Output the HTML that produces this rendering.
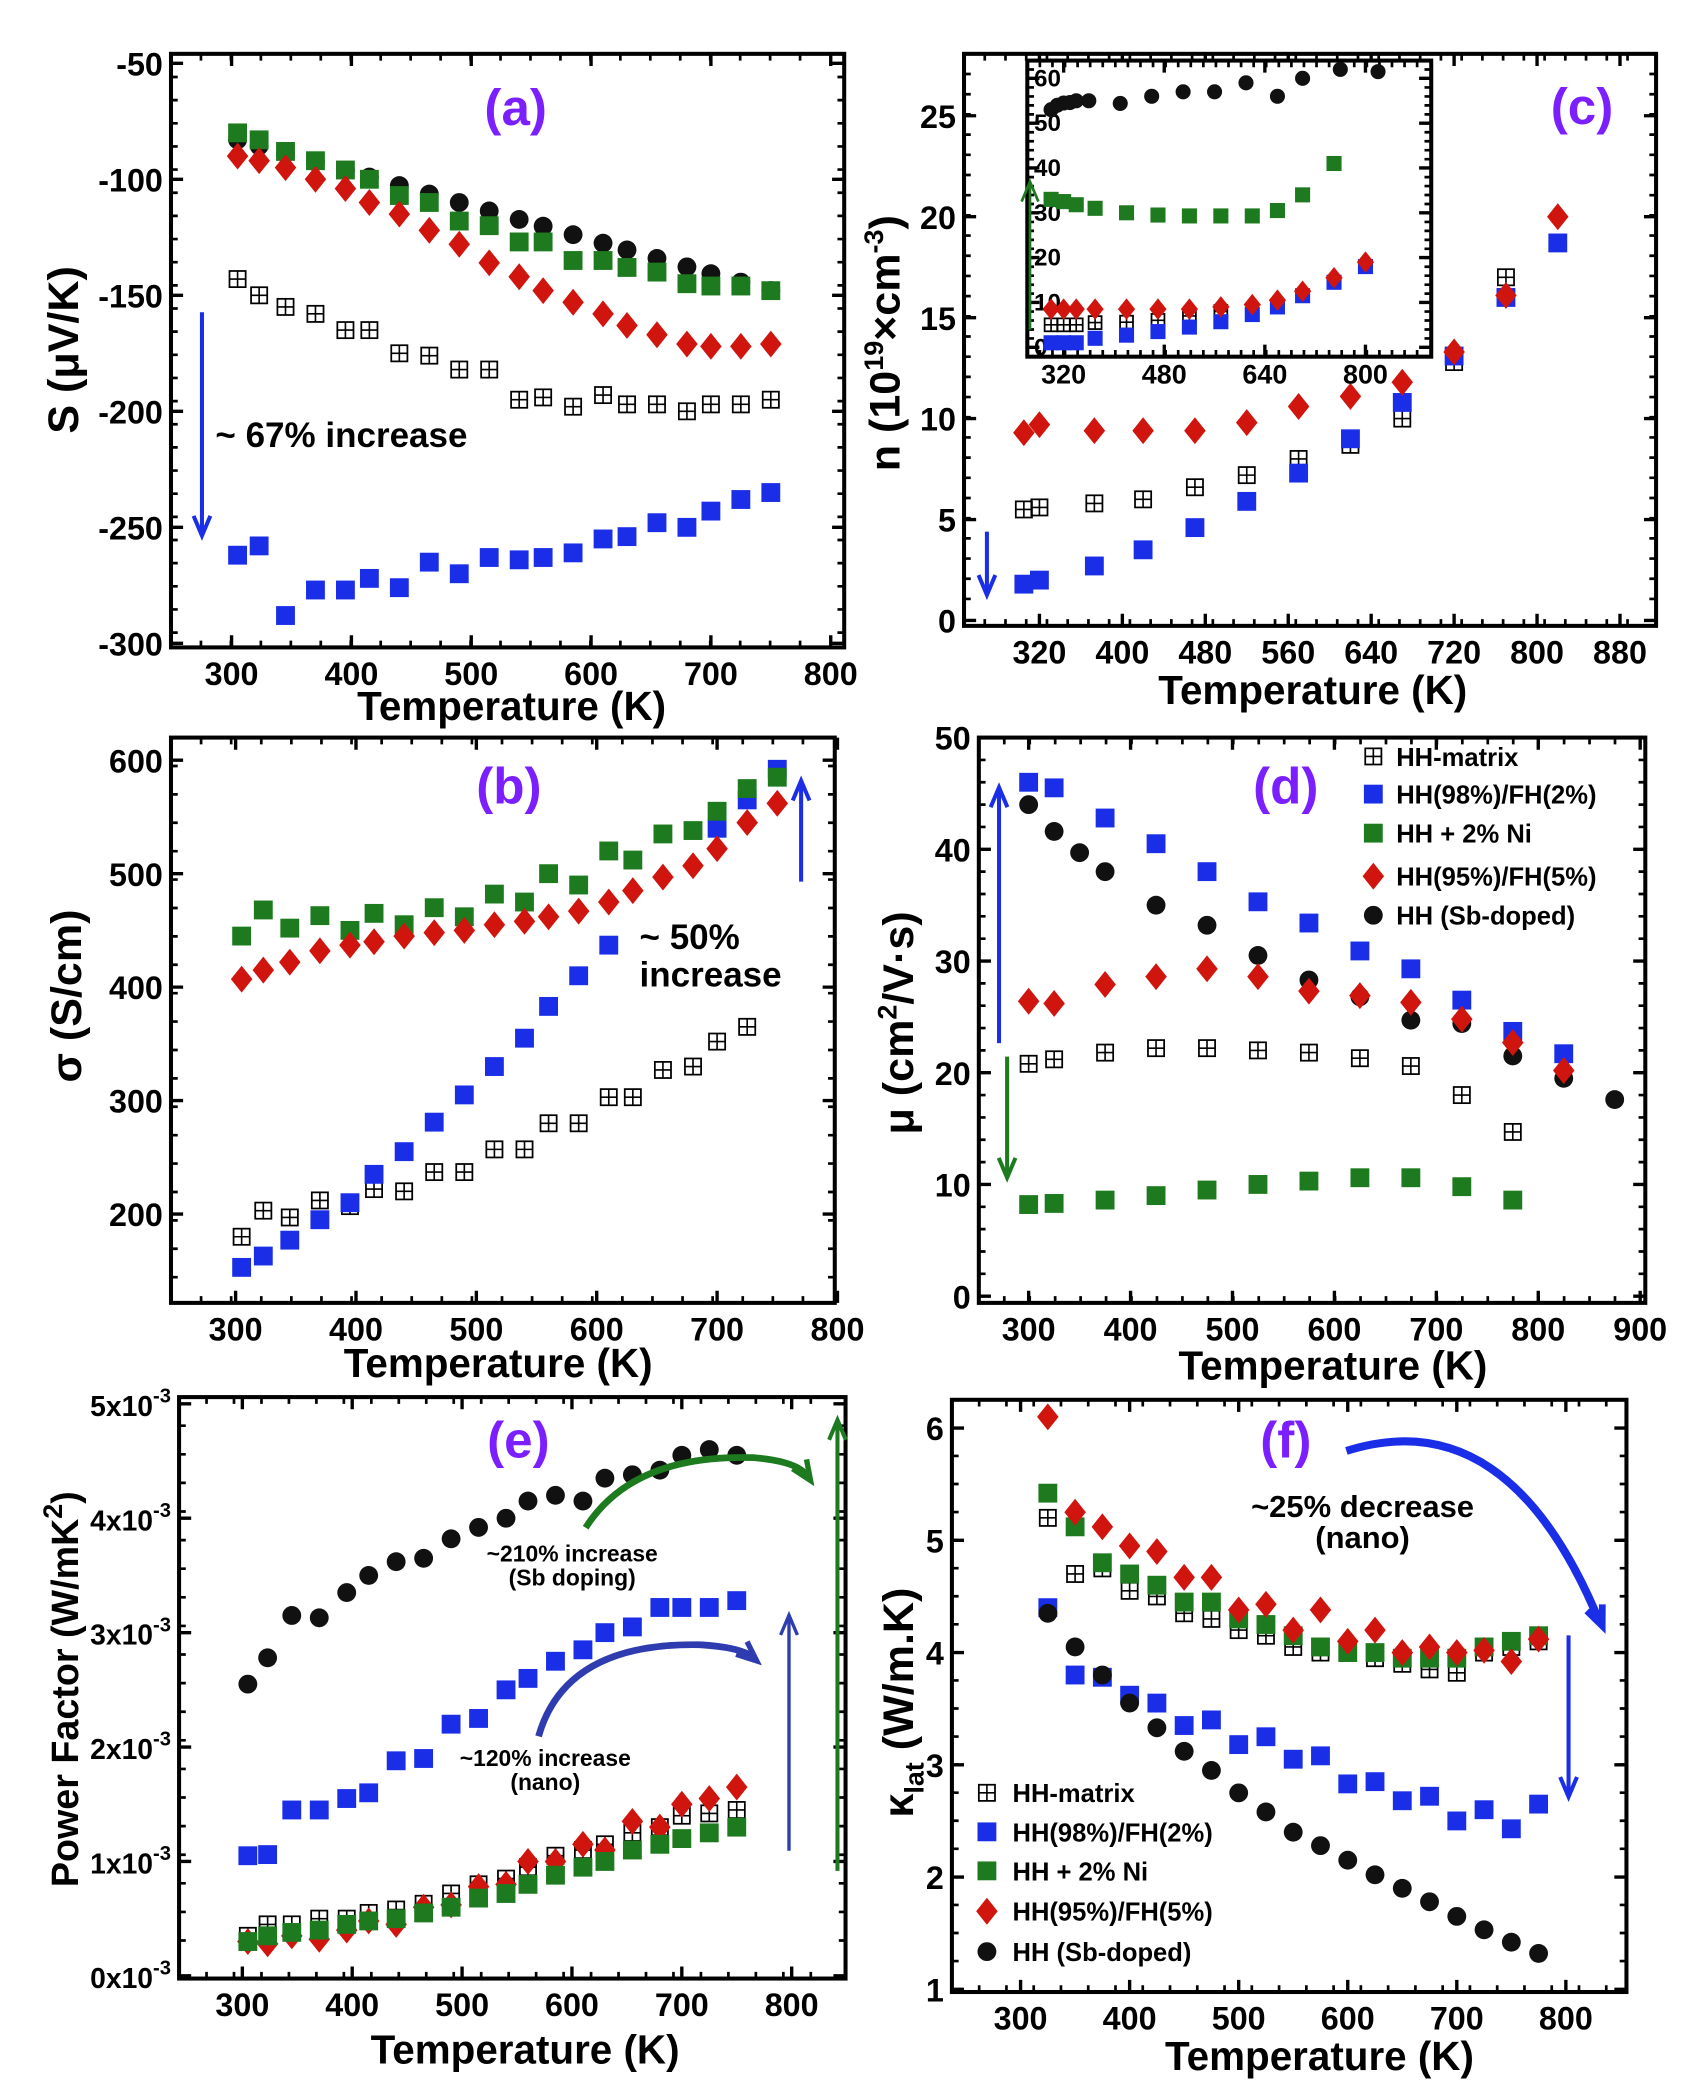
<!DOCTYPE html>
<html><head><meta charset="utf-8"><style>
html,body{margin:0;padding:0;background:#fff}
svg{display:block}
text{font-family:"Liberation Sans",sans-serif;font-weight:bold}
</style></head><body>
<svg id="s" width="1683" height="2097" viewBox="0 0 1250 1558" preserveAspectRatio="none" xmlns="http://www.w3.org/2000/svg"></svg>
<script>
const S=document.getElementById('s');let h='';
const B='#1a2ee8',G='#1e7a1e',R='#d0150f',K='#111',P='#7b1fff';
function T(x,y,t,sz,o){o=o||{};h+=`<text x="${x}" y="${y}" font-size="${sz}" fill="${o.c||'#000'}" text-anchor="${o.a||'middle'}" ${o.r?`transform="rotate(-90 ${x} ${y})"`:''} ${o.f?`font-family="${o.f}"`:''}>${t}</text>`;}
function mk(type,x,y,s){s=s||1;
 if(type=='b')h+=`<rect x="${x-7*s}" y="${y-7*s}" width="${14*s}" height="${14*s}" fill="${B}"/>`;
 if(type=='g')h+=`<rect x="${x-7*s}" y="${y-7*s}" width="${14*s}" height="${14*s}" fill="${G}"/>`;
 if(type=='r')h+=`<polygon points="${x},${y-10*s} ${x+8*s},${y} ${x},${y+10*s} ${x-8*s},${y}" fill="${R}"/>`;
 if(type=='k')h+=`<circle cx="${x}" cy="${y}" r="${7*s}" fill="${K}"/>`;
 if(type=='o')h+=`<rect x="${x-6*s}" y="${y-6*s}" width="${12*s}" height="${12*s}" fill="none" stroke="#000" stroke-width="1.3"/><path d="M${x} ${y-6*s}V${y+6*s}M${x-6*s} ${y}H${x+6*s}" stroke="#000" stroke-width="1.2"/>`;
}
function axes(c){
 const {x0,x1,y0,y1}=c;
 h+=`<rect x="${x0}" y="${y0}" width="${x1-x0}" height="${y1-y0}" fill="none" stroke="#000" stroke-width="3"/>`;
 c.xt.forEach(v=>{const X=c.fx(v);h+=`<path d="M${X} ${y1}v-9M${X} ${y0}v9" stroke="#000" stroke-width="2.5"/>`;if(c.xl!==false)T(X,y1+28,v,24);});
 c.yt.forEach((v,i)=>{const Y=c.fy(v);h+=`<path d="M${x0} ${Y}h9M${x1} ${Y}h-9" stroke="#000" stroke-width="2.5"/>`;if(c.ylab)T(x0-6,Y+9,c.ylab[i],c.ysz||24,{a:'end'});});
 if(c.minor){const n=Math.round((x1-x0)/c.minor[0]);for(let i=1;i<n;i++){const X=x0+i*c.minor[0];h+=`<path d="M${X} ${y1}v-5M${X} ${y0}v5" stroke="#000" stroke-width="2"/>`;}
 const m=Math.round((y1-y0)/c.minor[1]);for(let i=1;i<m;i++){const Y=y0+i*c.minor[1];h+=`<path d="M${x0} ${Y}h5M${x1} ${Y}h-5" stroke="#000" stroke-width="2"/>`;}}
}
function ser(c,type,Ts,vs,s){Ts.forEach((t,i)=>{if(vs[i]!=null)mk(type,c.fx(t),c.fy(vs[i]),s);});}
function head(x1,y1,x2,y2,col,w){const a=Math.atan2(y2-y1,x2-x1),L=16;
 h+=`<path d="M${x2-L*Math.cos(a-0.4)} ${y2-L*Math.sin(a-0.4)}L${x2} ${y2}L${x2-L*Math.cos(a+0.4)} ${y2-L*Math.sin(a+0.4)}" fill="none" stroke="${col}" stroke-width="${w}"/>`;}
function arrow(x1,y1,x2,y2,col,w){w=w||3;h+=`<line x1="${x1}" y1="${y1}" x2="${x2}" y2="${y2}" stroke="${col}" stroke-width="${w}"/>`;head(x1,y1,x2,y2,col,w);}
const T20=[305,323,345,370,395,415,440,465,490,515,540,560,585,610,630,655,680,700,725,750];

// (a)
let a={x0:127,x1:627,y0:40,y1:481,fx:t=>172+(t-300)*0.89,fy:v=>47+(-50-v)*1.724,xt:[300,400,500,600,700,800],yt:[-50,-100,-150,-200,-250,-300],minor:[22.25,17.2]};
a.ylab=a.yt;axes(a);
T(380,535,'Temperature (K)',30);T(58,260,'S (μV/K)',32,{r:1});
ser(a,'o',T20,[-143,-150,-155,-158,-165,-165,-175,-176,-182,-182,-195,-194,-198,-193,-197,-197,-200,-197,-197,-195]);
ser(a,'b',T20,[-262,-258,-288,-277,-277,-272,-276,-265,-270,-263,-264,-263,-261,-255,-254,-248,-250,-243,-238,-235]);
ser(a,'k',T20,T20.map(t=>-83-(t-305)*0.146));
ser(a,'g',T20,[-80,-83,-88,-92,-96,-100,-107,-110,-118,-120,-127,-127,-135,-135,-138,-140,-145,-146,-146,-148]);
ser(a,'r',T20,[-90,-92,-95,-100,-104,-110,-115,-122,-128,-136,-142,-148,-153,-158,-163,-167,-171,-172,-172,-171]);
arrow(150,232,150,398,B,3);T(160,332,'~ 67% increase',26,{a:'start'});T(383,93,'(a)',38,{c:P});

// (c)
let c={x0:716,x1:1230,y0:40,y1:465,fx:t=>772+(t-320)*0.77,fy:v=>461-v*15,xt:[320,400,480,560,640,720,800,880],yt:[0,5,10,15,20,25],minor:[15.4,15]};
c.ylab=c.yt;axes(c);
T(975,523,'Temperature (K)',30);T(668,255,'n (10<tspan font-size="20" dy="-12">19</tspan><tspan dy="12">×cm</tspan><tspan font-size="20" dy="-12">-3</tspan><tspan dy="12">)</tspan>',32,{r:1});
const TC=[305,320,373,420,470,520,570,620,670,720,770,820];
ser(c,'o',TC,[5.5,5.6,5.8,6.0,6.6,7.2,8,8.7,10,12.8,17]);
ser(c,'b',TC,[1.8,2.0,2.7,3.5,4.6,5.9,7.3,9,10.8,13.1,16,18.7]);
ser(c,'r',TC,[9.3,9.7,9.4,9.4,9.4,9.8,10.6,11.1,11.8,13.3,16.1,20]);
arrow(733,395,733,442,B,3);T(1175,92,'(c)',38,{c:P});
// inset
let ci={x0:763,x1:1063,y0:45,y1:265,fx:t=>790+(t-320)*0.467,fy:v=>258-v*3.33,xt:[320,480,640,800],yt:[0,10,20,30,40,50,60],minor:[9.34,6.66],xl:false};
h+=`<rect x="763" y="45" width="300" height="220" fill="#fff"/>`;
axes(ci);ci.xt.forEach(v=>T(ci.fx(v),285,v,20));ci.yt.forEach(v=>T(ci.x0+5,ci.fy(v)+6,v,18,{a:'start'}));
ser(ci,'k',[300,310,320,330,340,360,410,460,510,560,610,660,700,760,820],[53,54,54.5,54.6,55,55,54.4,56,57,57,59,56,60,62,61.5],0.8);
ser(ci,'g',[300,320,340,370,420,470,520,570,620,660,700,750],[33,32.5,31.8,31,30,29.5,29.3,29.3,29.3,30.5,34,41],0.8);
ser(ci,'o',[300,320,340,370,420,470,520,570],[5,5,5,5.5,5.6,6,7,8],0.8);
ser(ci,'b',[300,320,340,370,420,470,520,570,620,660,700,750,800],[1,1,1,2,2.7,3.5,4.5,5.7,7.3,9,11.5,14.5,18],0.8);
ser(ci,'r',[300,320,340,370,420,470,520,570,620,660,700,750,800],[8.5,8.5,8.5,8.5,8.5,8.5,8.5,9,9.5,10.5,12.5,15.5,19],0.8);
arrow(765,245,765,135,G,2);

// (b)
let b={x0:127,x1:620,y0:548,y1:968,fx:t=>175+(t-300)*0.894,fy:v=>902-(v-200)*0.843,xt:[300,400,500,600,700,800],yt:[200,300,400,500,600],minor:[22.35,21.1]};
b.ylab=b.yt;axes(b);
T(370,1023,'Temperature (K)',30);T(60,740,'σ (S/cm)',32,{r:1});
ser(b,'o',T20,[180,203,197,212,207,222,220,237,237,257,257,280,280,303,303,327,330,352,365,null]);
ser(b,'b',T20,[153,163,177,195,210,235,255,281,305,330,355,383,410,437,null,null,null,540,565,592]);
ser(b,'g',T20,[445,468,452,463,450,465,455,470,462,482,475,500,490,520,512,535,538,555,575,585]);
ser(b,'r',T20,[407,415,422,432,437,440,445,448,450,455,458,462,467,475,485,497,507,522,545,562]);
arrow(595,655,595,580,B,3);T(475,705,'~ 50%',26,{a:'start'});T(475,733,'increase',26,{a:'start'});T(378,597,'(b)',38,{c:P});

// (d)
let d={x0:727,x1:1222,y0:548,y1:968,fx:t=>764+(t-300)*0.757,fy:v=>963-v*8.3,xt:[300,400,500,600,700,800,900],yt:[0,10,20,30,40,50],minor:[18.9,16.6]};
d.ylab=d.yt;axes(d);
T(990,1025,'Temperature (K)',30);T(678,760,'μ (cm<tspan font-size="20" dy="-12">2</tspan><tspan dy="12">/V·s)</tspan>',32,{r:1});
ser(d,'b',[300,325,375,425,475,525,575,625,675,725,775,825],[46,45.5,42.8,40.5,38,35.3,33.4,30.9,29.3,26.5,23.7,21.7]);
ser(d,'k',[300,325,350,375,425,475,525,575,625,675,725,775,825,875],[44,41.6,39.7,38,35,33.2,30.5,28.3,26.8,24.7,24.4,21.5,19.5,17.6]);
ser(d,'r',[300,325,375,425,475,525,575,625,675,725,775,825],[26.4,26.2,27.9,28.6,29.3,28.6,27.3,26.9,26.3,24.8,22.7,20.2]);
ser(d,'o',[300,325,375,425,475,525,575,625,675,725,775],[20.8,21.2,21.8,22.2,22.2,22,21.8,21.3,20.6,18,14.7]);
ser(d,'g',[300,325,375,425,475,525,575,625,675,725,775],[8.2,8.3,8.6,9,9.5,10,10.3,10.6,10.6,9.8,8.6]);
arrow(742,775,742,585,B,3);arrow(748,785,748,875,G,3);T(955,597,'(d)',38,{c:P});
[['o','HH-matrix'],['b','HH(98%)/FH(2%)'],['g','HH + 2% Ni'],['r','HH(95%)/FH(5%)'],['k','HH (Sb-doped)']].forEach((e,i)=>{const y=[562,590,619,651,680][i];mk(e[0],1020,y);T(1037,y+7,e[1],19,{a:'start',f:'Liberation Sans'});});

// (e)
let e={x0:133,x1:628,y0:1038,y1:1470,fx:t=>180+(t-300)*0.816,fy:v=>1468-v*85,xt:[300,400,500,600,700,800],yt:[0,1,2,3,4,5],minor:[20.4,21.25]};
e.ylab=e.yt.map(v=>`${v}x10<tspan font-size="15" dy="-10">-3</tspan>`);e.ysz=21;axes(e);
T(390,1533,'Temperature (K)',30);T(58,1255,'Power Factor (W/mK<tspan font-size="20" dy="-12">2</tspan><tspan dy="12">)</tspan>',28,{r:1});
ser(e,'k',T20,[2.55,2.78,3.15,3.13,3.35,3.5,3.62,3.65,3.82,3.92,4.0,4.15,4.2,4.15,4.35,4.38,4.42,4.55,4.6,4.55]);
ser(e,'b',T20,[1.05,1.06,1.45,1.45,1.55,1.6,1.88,1.9,2.2,2.25,2.5,2.6,2.75,2.85,3.0,3.05,3.22,3.22,3.22,3.28]);
ser(e,'o',T20,[0.35,0.45,0.45,0.5,0.5,0.55,0.58,0.63,0.72,0.8,0.85,0.95,1.05,1.1,1.15,1.25,1.3,1.4,1.42,1.45]);
ser(e,'r',T20,[0.3,0.28,0.35,0.32,0.4,0.48,0.45,0.6,0.62,0.78,0.8,1.0,1.0,1.15,1.1,1.35,1.3,1.5,1.55,1.65]);
ser(e,'g',T20,[0.3,0.35,0.38,0.4,0.45,0.48,0.5,0.55,0.6,0.68,0.72,0.8,0.88,0.95,1.0,1.1,1.15,1.2,1.25,1.3]);
h+=`<path d="M435 1135 Q470 1080 560 1083 Q595 1086 600 1098" fill="none" stroke="${G}" stroke-width="5"/><path d="M400 1290 Q420 1220 520 1222 Q552 1224 560 1232" fill="none" stroke="#2e3cb0" stroke-width="5"/>`;
head(592,1085,602,1100,G,4);head(548,1222,562,1234,'#2e3cb0',4);
T(425,1160,'~210% increase',17);T(425,1178,'(Sb doping)',17);T(405,1312,'~120% increase',17);T(405,1330,'(nano)',17);
arrow(586,1375,586,1200,'#2e3cb0',2.5);arrow(622,1390,622,1055,G,3);T(385,1083,'(e)',38,{c:P});

// (f)
let f={x0:707,x1:1208,y0:1040,y1:1480,fx:t=>758+(t-300)*0.81,fy:v=>1478-(v-1)*83.4,xt:[300,400,500,600,700,800],yt:[1,2,3,4,5,6],minor:[20.25,20.85]};
f.ylab=f.yt;axes(f);
T(980,1538,'Temperature (K)',30);T(678,1265,'κ<tspan font-size="20" dy="8">lat</tspan><tspan dy="-8"> (W/m.K)</tspan>',32,{r:1});
const TF=[325,350,375,400,425,450,475,500,525,550,575,600,625,650,675,700,725,750,775];
ser(f,'o',TF,[5.2,4.7,4.75,4.55,4.5,4.35,4.3,4.2,4.15,4.05,4.0,4.0,3.95,3.9,3.85,3.82,4.0,4.05,4.1]);
ser(f,'g',TF,[5.42,5.12,4.8,4.7,4.6,4.45,4.45,4.3,4.25,4.15,4.05,4.0,4.0,3.95,3.95,3.95,4.05,4.1,4.15]);
ser(f,'r',TF,[6.1,5.25,5.12,4.95,4.9,4.67,4.67,4.38,4.43,4.2,4.38,4.1,4.2,4.0,4.05,4.0,4.02,3.92,4.12]);
ser(f,'b',TF,[4.4,3.8,3.78,3.62,3.55,3.35,3.4,3.18,3.25,3.05,3.08,2.83,2.85,2.68,2.72,2.5,2.6,2.43,2.65]);
ser(f,'k',TF,[4.35,4.05,3.8,3.55,3.33,3.12,2.95,2.75,2.58,2.4,2.28,2.15,2.02,1.9,1.78,1.65,1.53,1.42,1.32]);
[['o','HH-matrix'],['b','HH(98%)/FH(2%)'],['g','HH + 2% Ni'],['r','HH(95%)/FH(5%)'],['k','HH (Sb-doped)']].forEach((q,i)=>{const y=[1332,1361,1390,1420,1450][i];mk(q[0],733,y);T(752,y+7,q[1],19,{a:'start',f:'Liberation Sans'});});
h+=`<path d="M1000 1078 Q1120 1040 1188 1205" fill="none" stroke="${B}" stroke-width="6"/>`;
head(1170,1160,1190,1208,B,5);
arrow(1165,1215,1165,1335,B,3);T(1012,1127,'~25% decrease',23);T(1012,1150,'(nano)',23);T(955,1083,'(f)',38,{c:P});
S.innerHTML=h;
</script>
</body></html>
